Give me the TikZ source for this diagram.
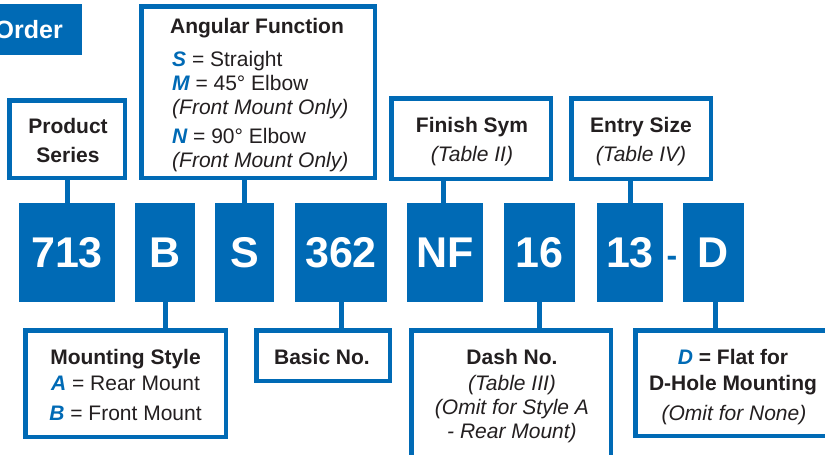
\documentclass[tikz,border=0pt]{standalone}
\usepackage{fontspec}
\setmainfont{Liberation Sans}
\definecolor{catblue}{RGB}{0,106,181}
\definecolor{ink}{RGB}{35,31,32}
\newcommand{\key}[1]{\textcolor{catblue}{\bfseries\itshape #1}}
\tikzset{
  codebox/.style={fill=catblue, text=white, inner sep=0pt, minimum height=99pt, font=\fontsize{43}{43}\selectfont\bfseries},
  infobox/.style={draw=catblue, line width=4.5pt, fill=white, inner sep=0pt},
  lbl/.style={text=ink, inner sep=0pt, anchor=base, font=\fontsize{21}{25}\selectfont},
  lblb/.style={lbl, font=\fontsize{21}{25}\selectfont\bfseries},
  lbli/.style={lbl, font=\fontsize{21}{25}\selectfont\itshape},
  stem/.style={draw=catblue, line width=5pt},
}
\begin{document}
\begin{tikzpicture}[x=1pt, y=-1pt]
            \useasboundingbox (0,0) rectangle (825,455);
            \clip (0,0) rectangle (825,455);
            \node (ordbox) [fill=catblue, inner sep=0pt, anchor=north east, minimum width=90pt, minimum height=51pt] at (82,4) {};
            \node (ordtxt) [text=white, inner sep=0pt, anchor=base east, font=\fontsize{25}{25}\selectfont\bfseries] at (63,38) {Order};
            % part number
            \node (c713) [codebox, minimum width=96pt] at (67,252.5) {713};
            \node (cB) [codebox, minimum width=60pt] at (165,252.5) {B};
            \node (cS) [codebox, minimum width=59pt] at (244.5,252.5) {S};
            \node (c362) [codebox, minimum width=92pt] at (341,252.5) {362};
            \node (cNF) [codebox, minimum width=76pt] at (445,252.5) {NF};
            \node (c16) [codebox, minimum width=71pt] at (539.5,252.5) {16};
            \node (c13) [codebox, minimum width=66pt] at (630,252.5) {13};
            \node (hyph) [text=catblue, inner sep=0pt, anchor=base, font=\fontsize{32}{32}\selectfont\bfseries] at (672,266) {-};
            \node (cD) [codebox, minimum width=61pt] at (713.5,252.5) {D};
            % boxes above
            \node (prodbox) [infobox, minimum width=115.5pt, minimum height=77.5pt] at (67,139) {};
            \node (prod1) [lblb] at (68,133) {Product};
            \node (prod2) [lblb] at (68,162) {Series};
            \node (angbox) [infobox, minimum width=233.5pt, minimum height=171.5pt] at (258,92) {};
            \node (ang0) [lblb] at (257,34) {Angular Function};
            \node (ang1) [lbl, anchor=base west] at (172,66) {\key{S} = Straight};
            \node (ang2) [lbl, anchor=base west] at (172,90) {\key{M} = 45° Elbow};
            \node (ang3) [lbli, anchor=base west] at (172,114) {(Front Mount Only)};
            \node (ang4) [lbl, anchor=base west] at (172,143) {\key{N} = 90° Elbow};
            \node (ang5) [lbli, anchor=base west] at (172,167) {(Front Mount Only)};
            \node (finbox) [infobox, minimum width=159.5pt, minimum height=80.5pt] at (471,138.5) {};
            \node (fin1) [lblb] at (472,132) {Finish Sym};
            \node (fin2) [lbli] at (472,161) {(Table II)};
            \node (entbox) [infobox, minimum width=139.5pt, minimum height=80.5pt] at (641,138.5) {};
            \node (ent1) [lblb] at (641,132) {Entry Size};
            \node (ent2) [lbli] at (641,161) {(Table IV)};
            % boxes below
            \node (mntbox) [infobox, minimum width=200.5pt, minimum height=106.5pt] at (125.5,383.5) {};
            \node (mnt1) [lblb] at (125.5,364) {Mounting Style};
            \node (mnt2) [lbl] at (125.5,390) {\key{A} = Rear Mount};
            \node (mnt3) [lbl] at (125.5,420) {\key{B} = Front Mount};
            \node (basbox) [infobox, minimum width=133.5pt, minimum height=50.5pt] at (323,355.5) {};
            \node (bas1) [lblb] at (322,364) {Basic No.};
            \node (dshbox) [infobox, minimum width=199.5pt, minimum height=147.5pt] at (511,404) {};
            \node (dsh1) [lblb] at (512,364) {Dash No.};
            \node (dsh2) [lbli] at (512,390) {(Table III)};
            \node (dsh3) [lbli] at (512,414) {(Omit for Style A};
            \node (dsh4) [lbli] at (512,438) {- Rear Mount)};
            \node (flatbox) [infobox, minimum width=212.5pt, minimum height=105.5pt] at (741.5,383) {};
            \node (flat1) [lblb] at (733,364) {\key{D} = Flat for};
            \node (flat2) [lblb] at (733,390) {D-Hole Mounting};
            \node (flat3) [lbli] at (734,420) {(Omit for None)};
            % stems
            \draw[stem] (c713.north) -- (c713.north |- prodbox.south);
            \draw[stem] (cS.north) -- (cS.north |- angbox.south);
            \draw[stem] ([xshift=-2pt]cNF.north) -- ([xshift=-2pt]cNF.north |- finbox.south);
            \draw[stem] (c13.north) -- (c13.north |- entbox.south);
            \draw[stem] (cB.south) -- (cB.south |- mntbox.north);
            \draw[stem] (c362.south) -- (c362.south |- basbox.north);
            \draw[stem] (c16.south) -- (c16.south |- dshbox.north);
            \draw[stem] ([xshift=1.5pt]cD.south) -- ([xshift=1.5pt]cD.south |- flatbox.north);
        \end{tikzpicture}
\end{document}
